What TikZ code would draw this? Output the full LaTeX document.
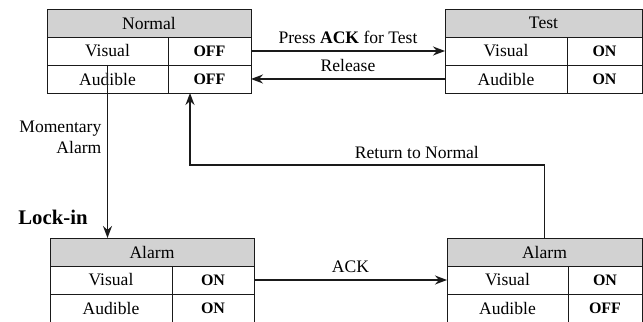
\documentclass[tikz,border=0pt]{standalone}
\usepackage{fontspec}
\setmainfont{Liberation Serif}
\usepackage{tikz}
\usetikzlibrary{arrows.meta,calc,positioning}
\definecolor{ink}{HTML}{1A1A1A}
\definecolor{headgray}{HTML}{D2D2D2}
\newcommand{\pxu}{0.022cm}

\begin{document}
\begin{tikzpicture}[x=\pxu,y=-\pxu,font=\fontsize{11}{13}\selectfont,>=Stealth,
 head/.style={draw=ink,fill=headgray,line width=0.6pt,inner sep=0pt,outer sep=0pt,minimum height=28*\pxu,anchor=north west},
 cell/.style={draw=ink,line width=0.6pt,inner sep=0pt,outer sep=0pt,minimum height=28*\pxu,anchor=north west},
 link/.style={->,draw=ink,line width=1pt}]
\useasboundingbox (0,0) rectangle (643,322);
% the four states: title row, then Visual and Audible
\foreach \nm/\x/\y/\a/\b/\ttl/\vv/\aa in {n/47/9/121/83/Normal/OFF/OFF,t/445/9/122/75/Test/ON/ON,al/50/238/122/82/Alarm/ON/ON,ak/447/238/121/74/Alarm/ON/OFF} {
 \node[head,minimum width=(\a+\b)*\pxu] (\nm) at (\x,\y) {\ttl};
 \node[cell,minimum width=\a*\pxu] (\nm-v) at (\nm.south west) {Visual};
 \node[cell,minimum width=\b*\pxu,font=\bfseries] (\nm-vs) at (\nm-v.north east) {\vv};
 \node[cell,minimum width=\a*\pxu] (\nm-a) at (\nm-v.south west) {Audible};
 \node[cell,minimum width=\b*\pxu,font=\bfseries] (\nm-as) at (\nm-a.north east) {\aa};
}
% test and back
\draw[link] (n-vs.east) -- node[above=1pt] {Press \textbf{ACK} for Test} (t-v.west);
\draw[link] (t-a.west) -- node[above=1pt] {Release} (n-as.east);
% alarm comes in
\draw[link] (n-v.south) -- node[left,align=right,pos=0.42] {Momentary\\Alarm} (n-v.south |- al.north);
\node[font=\fontsize{13}{15}\selectfont\bfseries] (lock) at (53,217) {Lock-in};
% acknowledged, then back to normal
\draw[link] (al-vs.east) -- node[above=1pt] {ACK} (ak-v.west);
\coordinate (turn) at (190,165);
\draw[link] (ak.north) |- node[pos=0.68,above] {Return to Normal} (turn) -- (turn |- n-as.south);
\end{tikzpicture}
\end{document}
